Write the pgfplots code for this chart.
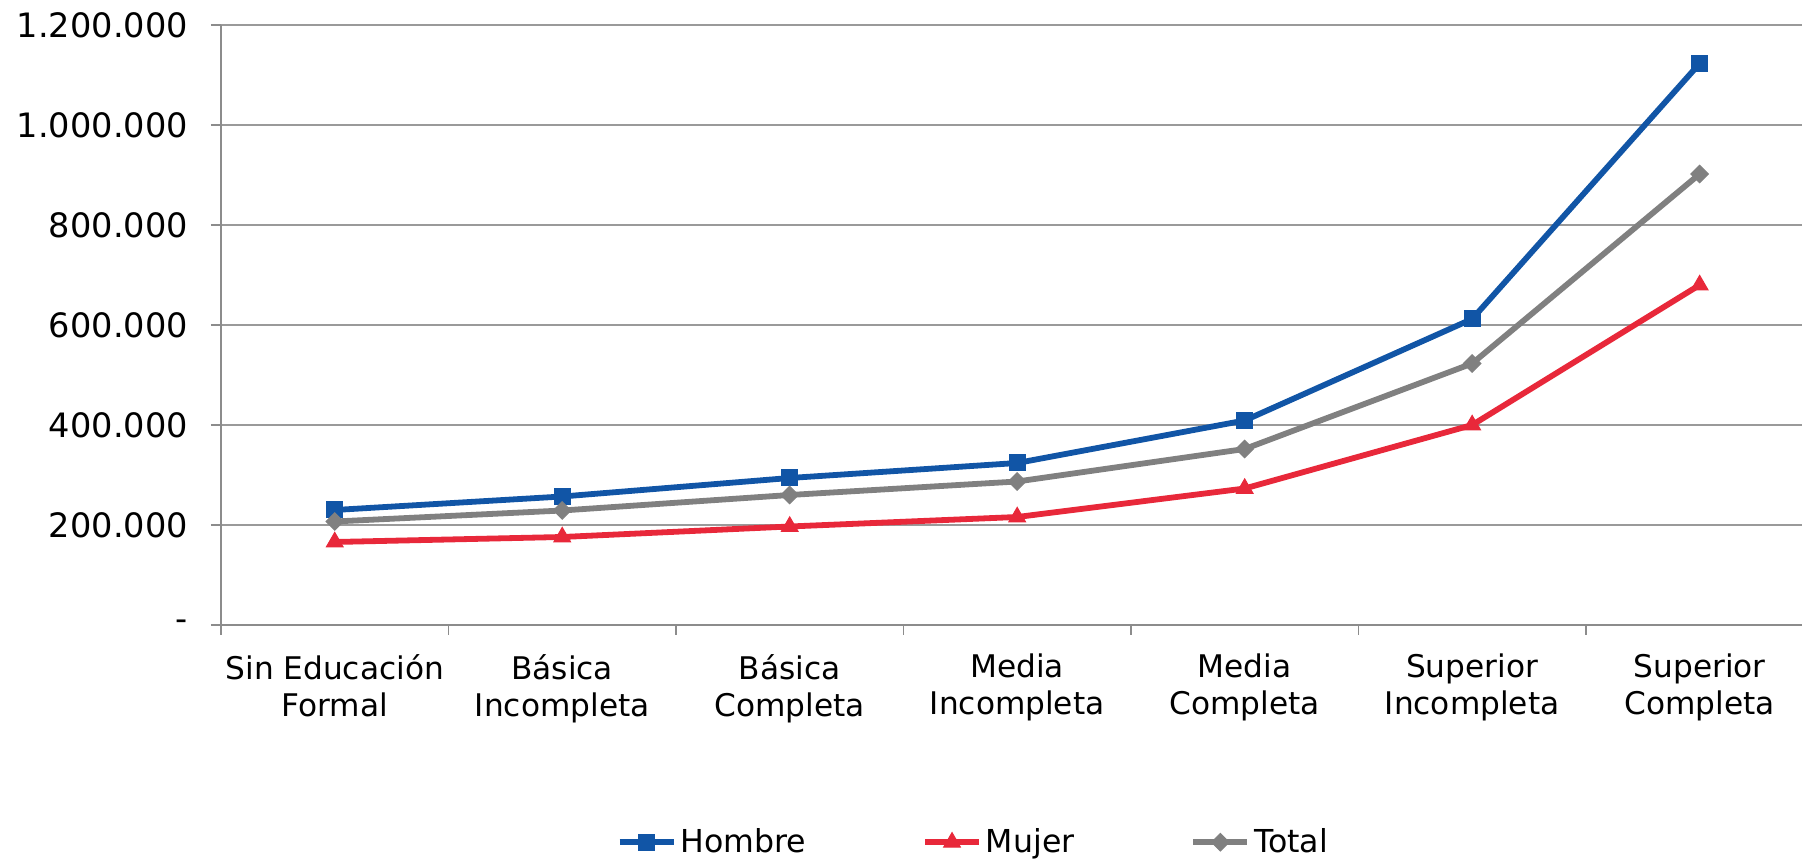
\documentclass[border=0pt]{standalone}
\usepackage{pgfplots}
\pgfplotsset{compat=1.18}
\usepackage{fontspec}
\setmainfont{DejaVu Sans}

\definecolor{hombre}{HTML}{1155A6}
\definecolor{mujer}{HTML}{E8283A}
\definecolor{total}{HTML}{808080}
\definecolor{ejes}{HTML}{8C8C8C}
\definecolor{rejilla}{HTML}{9A9A9A}

\begin{document}
\begin{tikzpicture}
\useasboundingbox (-110.5pt,-117.5pt) rectangle (790.5pt,312.5pt);
\begin{axis}[
    at={(0,0)}, anchor=south west,
    scale only axis,
    width=790.5pt, height=300pt,
    xmin=-0.5, xmax=6.45,
    ymin=0, ymax=1200000,
    axis x line*=bottom, axis y line*=left,
    x axis line style={-}, y axis line style={-},
    axis line style={ejes, line width=0.9pt},
    tick align=outside,
    major tick length=5pt, minor tick length=5pt,
    xtick={0,1,2,3,4,5,6},
    xticklabels={{Sin Educación\\Formal},{Básica\\Incompleta},{Básica\\Completa},{Media\\Incompleta},{Media\\Completa},{Superior\\Incompleta},{Superior\\Completa}},
    minor xtick={-0.5,0.5,1.5,2.5,3.5,4.5,5.5},
    major x tick style={draw=none},
    minor x tick style={ejes, line width=0.9pt},
    ytick={0,200000,400000,600000,800000,1000000,1200000},
    yticklabels={-,200.000,400.000,600.000,800.000,1.000.000,1.200.000},
    y tick style={ejes, line width=0.9pt},
    scaled y ticks=false,
    ymajorgrids,
    major grid style={rejilla, line width=0.8pt},
    xticklabel style={font=\fontsize{15.6}{18.5}\selectfont, black, align=center, yshift=-6pt},
    yticklabel style={font=\fontsize{16.8}{19}\selectfont, black, xshift=-8pt},
    clip=false,
    legend columns=3,
    legend style={draw=none, fill=none, font=\fontsize{15.8}{18.5}\selectfont,
        at={(axis description cs:0.25,-0.362)}, anchor=west,
        /tikz/every even column/.append style={column sep=56pt},
        inner sep=0pt},
    legend cell align=left,
    legend image code/.code={
        \draw[mark repeat=2,mark phase=2] plot coordinates {(0pt,0pt) (13.5pt,0pt) (27pt,0pt)};
    },
]
\addplot[hombre, line width=2.9pt, mark=square*, mark size=4pt, mark options={solid, line width=0.5pt}] coordinates {
    (0,230000) (1,257000) (2,294000) (3,324000) (4,409000) (5,612000) (6,1123000)};
\addlegendentry{Hombre}
\addplot[mujer, line width=2.9pt, mark=triangle*, mark size=4.8pt, mark options={solid, line width=0.5pt}] coordinates {
    (0,166000) (1,176000) (2,197000) (3,216000) (4,273000) (5,400000) (6,680000)};
\addlegendentry{Mujer}
\addplot[total, line width=2.9pt, mark=square*, mark size=3.1pt, mark options={solid, rotate=45, line width=0.5pt}] coordinates {
    (0,207000) (1,229000) (2,260000) (3,287000) (4,352000) (5,523000) (6,902000)};
\addlegendentry{Total}
\end{axis}
\end{tikzpicture}
\end{document}
